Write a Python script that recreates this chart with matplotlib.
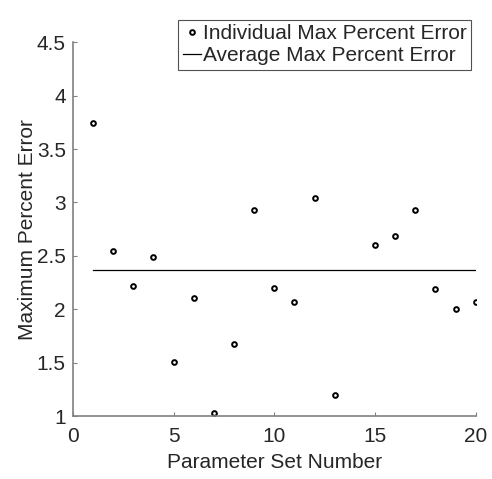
import numpy as np
import matplotlib
matplotlib.use('Agg')
import matplotlib.pyplot as plt

plt.rcParams['font.family'] = ['Liberation Sans', 'DejaVu Sans']

# parameter set number and max percent error (set 14 not shown)
param_set = [1, 2, 3, 4, 5, 6, 7, 8, 9, 10, 11, 12, 13, 15, 16, 17, 18, 19, 20]
max_err = [3.74, 2.55, 2.22, 2.49, 1.51, 2.11, 1.03, 1.68, 2.93, 2.20,
           2.07, 3.04, 1.20, 2.60, 2.69, 2.93, 2.19, 2.00, 2.07]
avg_err = 2.37
avg_range = [1, 20]

fig = plt.figure(figsize=(4.92, 4.79), dpi=100)
ax = fig.add_axes([0.148, 0.131, 0.819, 0.781])

ax.plot(param_set, max_err, 'o', mfc='none', mec='black', ms=3.4, mew=1.4,
        label='Individual Max Percent Error')
ax.plot(avg_range, [avg_err, avg_err], '-', color='black', lw=0.9,
        label='Average Max Percent Error')

ax.set_xlim(0, 20)
ax.set_ylim(1, 4.5)
ax.set_xticks([0, 5, 10, 15, 20])
ax.set_yticks([1, 1.5, 2, 2.5, 3, 3.5, 4, 4.5])
ax.set_yticklabels(['1', '1.5', '2', '2.5', '3', '3.5', '4', '4.5'])

for s in ['top', 'right']:
    ax.spines[s].set_visible(False)
for s in ['left', 'bottom']:
    ax.spines[s].set_color('#808080')
    ax.spines[s].set_linewidth(1.2)
ax.tick_params(direction='in', length=3, color='#808080', labelsize=15,
               labelcolor='#262626', width=0.8)
ax.tick_params(axis='x', pad=8)
ax.tick_params(axis='y', pad=5)

ax.set_xlabel('Parameter Set Number', fontsize=15, color='#262626', labelpad=4.5)
ax.set_ylabel('Maximum Percent Error', fontsize=15, color='#262626', labelpad=0)

leg = ax.legend(loc='upper right', bbox_to_anchor=(0.989, 1.059),
                fontsize=15, frameon=True, fancybox=False,
                handlelength=0.9, handletextpad=0.1, borderpad=0.2,
                labelspacing=0.15, borderaxespad=0, markerscale=1.0)
leg.get_frame().set_edgecolor('#262626')
leg.get_frame().set_linewidth(0.8)
for t in leg.get_texts():
    t.set_color('#262626')

fig.savefig('out.png', dpi=100)
